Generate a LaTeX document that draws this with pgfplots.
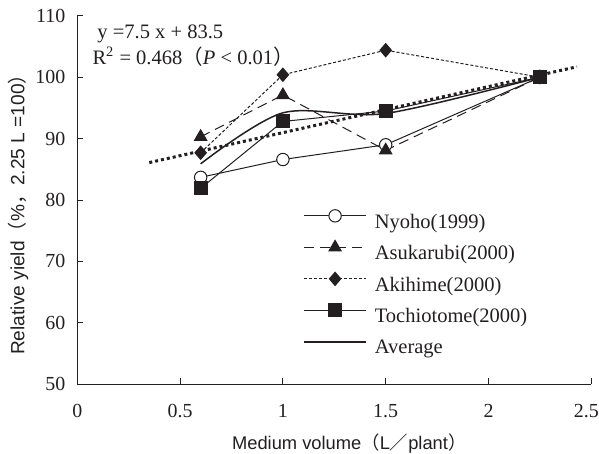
\documentclass[border=0pt]{standalone}
\usepackage{fontspec}
\setmainfont{Liberation Serif}
\newfontfamily\lsans{Liberation Sans}
\newfontfamily\cjk{Noto Sans CJK JP}
\usepackage{pgfplots}
\pgfplotsset{compat=1.18}
\definecolor{ink}{HTML}{231F20}

\begin{document}
\begin{tikzpicture}
\begin{axis}[
  scale only axis, width=257bp, height=184.25bp,
  xmin=0, xmax=2.5, ymin=50, ymax=110,
  axis lines=left, axis line style={-, ink, line width=0.6bp},
  xtick={0,0.5,1,1.5,2,2.5}, ytick={50,60,70,80,90,100,110},
  xticklabels={0,0.5,1,1.5,2,{2.5\hspace*{5bp}}},
  tick align=inside, major tick length=3bp, tick style={ink, line width=0.5bp},
  /pgf/number format/assume math mode=true,
  ticklabel style={font=\fontsize{10}{12}\selectfont, text=ink},
  xticklabel style={yshift=-6.5bp},
  yticklabel style={xshift=-2.5bp},
  xlabel={{\lsans Medium volume}{\cjk （}{\lsans L}{\cjk ／}{\lsans plant}{\cjk ）}},
  ylabel={{\lsans Relative yield}{\cjk （}{\lsans \%}{\cjk ，}{\lsans 2.25 L =100}{\cjk ）}},
  xlabel style={at={(axis description cs:0.529,-0.162)}, anchor=center, font=\fontsize{9.2}{11}\selectfont, text=ink},
  ylabel style={at={(axis description cs:-0.115,0.473)}, anchor=center, font=\fontsize{9.6}{11}\selectfont, text=ink},
  legend style={draw=none, fill=none, at={(axis description cs:0.439,0.483)}, anchor=north west,
    inner sep=0pt, row sep=0pt,
    nodes={inner sep=0pt, minimum height=15.75bp, font=\fontsize{10.3}{12}\selectfont, text=ink},
    /tikz/every odd column/.append style={column sep=4bp}},
  legend cell align=left,
  legend image code/.code={\draw[mark repeat=2,mark phase=2,#1] plot coordinates {(0bp,3.3bp) (15.5bp,3.3bp) (31bp,3.3bp)};},
]
% regression line
\addplot[forget plot, ink, line width=1.5bp, dash pattern=on 1.5bp off 1.5bp] coordinates {(0.35,86.1) (2.43,101.7)};

\addplot[ink, line width=0.5bp, mark=*, mark size=3.1bp, mark options={fill=white, draw=ink, line width=0.5bp, solid}]
  coordinates {(0.6,83.7) (1,86.6) (1.5,89.0) (2.25,100)};
\addlegendentry{Nyoho(1999)}

\addplot[ink, line width=0.5bp, dash pattern=on 5bp off 3bp, mark=triangle*, mark size=3.5bp, mark options={fill=ink, draw=ink, solid}]
  coordinates {(0.6,90.3) (1,97.1) (1.5,88.1) (2.25,100)};
\addlegendentry{Asukarubi(2000)}

\addplot[ink, line width=0.5bp, dash pattern=on 1.5bp off 1bp, mark=diamond*, mark size=3.3bp, mark options={fill=ink, draw=ink, solid, xscale=1.15}]
  coordinates {(0.6,87.7) (1,100.4) (1.5,104.4) (2.25,100)};
\addlegendentry{Akihime(2000)}

\addplot[ink, line width=0.5bp, mark=square*, mark size=3.25bp, mark options={fill=ink, draw=ink, solid}]
  coordinates {(0.6,81.9) (1,92.8) (1.5,94.5) (2.25,100)};
\addlegendentry{Tochiotome(2000)}

\addplot[ink, line width=0.75bp, smooth, no marks]
  coordinates {(0.6,85.9) (1,94.2) (1.5,94.1) (2.25,100)};
\addlegendentry{Average}

\node[anchor=west, inner sep=0pt, font=\fontsize{10.3}{12}\selectfont, text=ink] at (axis cs:0.096,107.1) {y =7.5 x + 83.5};
\node[anchor=west, inner sep=0pt, font=\fontsize{10.3}{12}\selectfont, text=ink] at (axis cs:0.072,103.4) {R\textsuperscript{2} = 0.468{\cjk （}\textit{P} < 0.01{\cjk ）}};
\end{axis}
\pgfresetboundingbox
\useasboundingbox (-38.65bp,-34.85bp) rectangle (260.85bp,192.15bp);
\end{tikzpicture}
\end{document}
